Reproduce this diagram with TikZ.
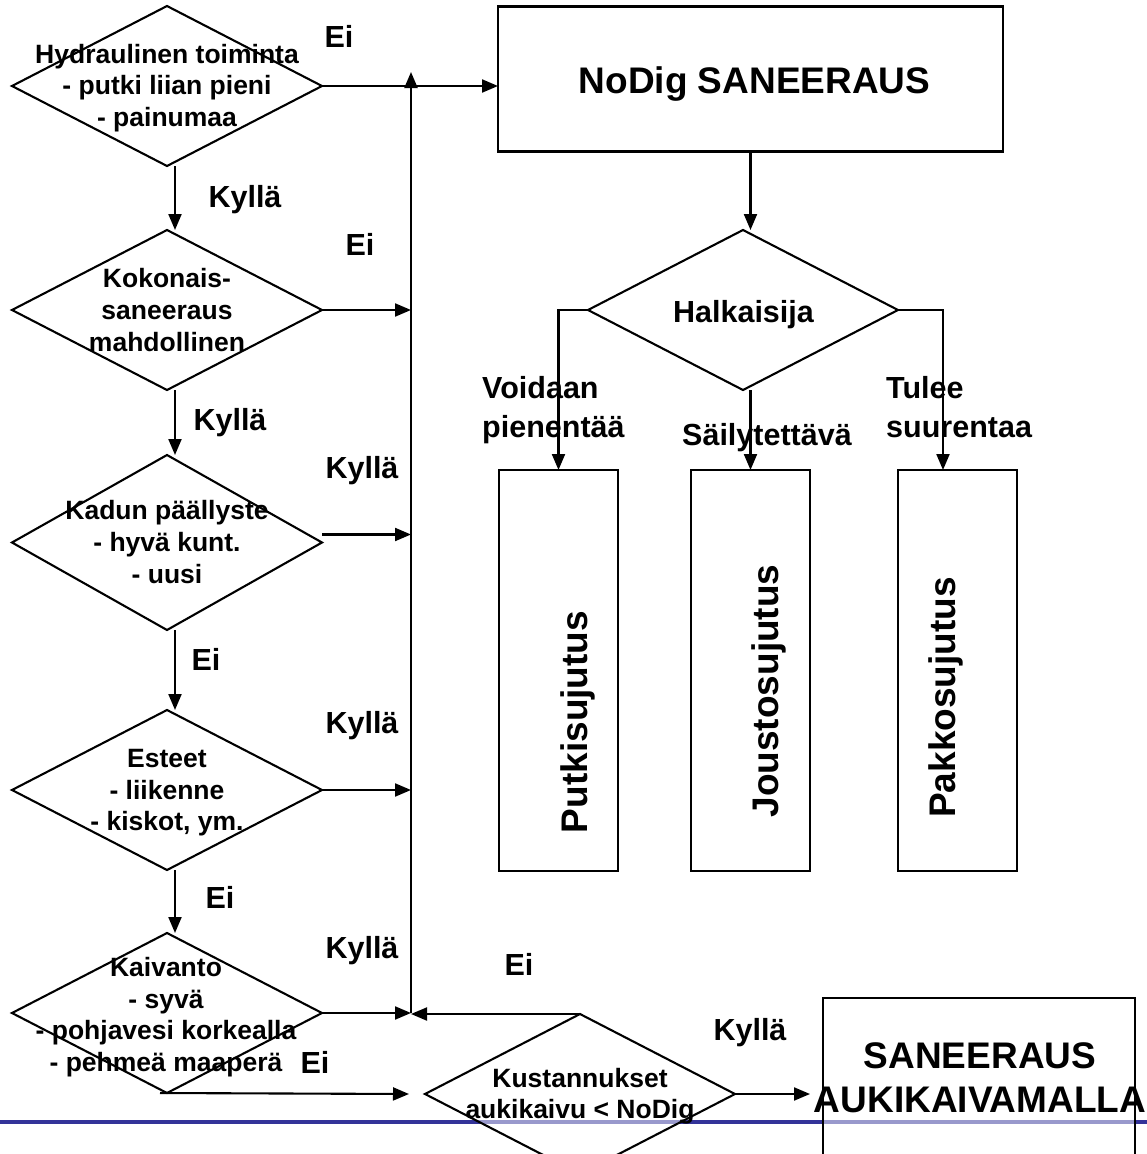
\documentclass[tikz,border=0pt]{standalone}
\usepackage{fontspec}
\setmainfont{Liberation Sans}
\usetikzlibrary{shapes.geometric,arrows.meta,calc}
\definecolor{lineblue}{RGB}{51,51,153}
\newcommand\fdia{\fontsize{26.5}{31.6}\selectfont\bfseries}
\newcommand\flab{\fontsize{30.5}{37}\selectfont\bfseries}
\newcommand\fbig{\fontsize{37}{44}\selectfont\bfseries}
\begin{document}
\begin{tikzpicture}[x=1pt,y=-1pt,
  dia/.style={draw, line width=2.1pt, diamond, minimum width=310pt, minimum height=160pt,
    inner sep=0pt, outer sep=0pt, fill=white, fill opacity=0.5},
  bx/.style={draw, line width=2.1pt, rectangle, inner sep=0pt, outer sep=0pt,
    fill=white, fill opacity=0.5},
  arr/.style={-{Triangle[length=16pt,width=13pt]}, line width=2.1pt},
  lab/.style={font=\flab, inner sep=0pt, anchor=base},
  labw/.style={font=\flab, inner sep=0pt, anchor=base west},
  dtx/.style={font=\fdia, align=center, inner sep=0pt},
  rot/.style={font=\fbig, rotate=90, inner sep=0pt}]
\useasboundingbox (0,0) rectangle (1147,1154);
\clip (0,0) rectangle (1147,1154);

% footer rule
\draw[lineblue, line width=4pt] (0,1122) -- (1147,1122);

% decision diamonds
\node[dia] (d1) at (167,86) {};
\node[dia] (d2) at (167,310) {};
\node[dia, minimum height=175pt] (d3) at (167,542.5) {};
\node[dia] (d4) at (167,790) {};
\node[dia] (d5) at (167,1013) {};
\node[dia] (k) at (580,1094) {};
\node[dia] (h) at (743,310) {};

% boxes
\node[bx, minimum width=505pt, minimum height=145pt] (nd) at (750.5,79) {};
\node[bx, minimum width=119pt, minimum height=401pt] (b1) at (558.5,670.5) {};
\node[bx, minimum width=119pt, minimum height=401pt] (b2) at (750.5,670.5) {};
\node[bx, minimum width=119pt, minimum height=401pt] (b3) at (957.5,670.5) {};
\node[bx, minimum width=312pt, minimum height=240pt] (sa) at (979,1118) {};

% collector line
\coordinate (bt) at (411,72);
\coordinate (bb) at (411,1013);
\draw[arr] (bb) -- (bt);

% connectors
\draw[arr] (d1.east) -- (d1.east -| nd.west);
\draw[arr] (d2.east) -- (d2.east -| bt);
\draw[arr] ([yshift=8pt]d3.east) -- ([yshift=8pt]d3.east -| bt);
\draw[arr] (d4.east) -- (d4.east -| bt);
\draw[arr] (d5.east) -- (bb);
\draw[arr] (k.north) -- (k.north -| bb);
\draw[arr] ([xshift=8pt]d1.south) -- ([xshift=8pt]d2.north);
\draw[arr] ([xshift=8pt]d2.south) -- ([xshift=8pt]d3.north);
\draw[arr] ([xshift=8pt]d3.south) -- ([xshift=8pt]d4.north);
\draw[arr] ([xshift=8pt]d4.south) -- ([xshift=8pt]d5.north);
\draw[arr] ([xshift=-7pt]d5.south) -- ([xshift=-16pt]k.west);
\draw[arr] (k.east) -- ([xshift=-13pt]sa.west |- k.east);
\draw[arr] (nd.south) -- (nd.south |- h.north);
\draw[arr] (h.west) -| (b1.north);
\draw[arr] (h.south -| b2.north) -- (b2.north);
\draw[arr] (h.east) -| ([xshift=-14.5pt]b3.north);

% diamond texts
\node[dtx] (t1) at (167,88) {Hydraulinen toiminta\\- putki liian pieni\\- painumaa};
\node[dtx] (t2) at (167,310) {Kokonais-\\saneeraus\\mahdollinen};
\node[dtx] (t3) at (167,542) {Kadun päällyste\\- hyvä kunt.\\- uusi};
\node[dtx] (t4) at (167,793) {Esteet\\- liikenne\\- kiskot, ym.};
\node[dtx] (t5) at (166,1017) {Kaivanto\\- syvä\\- pohjavesi korkealla\\- pehmeä maaperä};
\node[dtx] (tk) at (580,1096) {Kustannukset\\aukikaivu < NoDig};
\node[lab] (th) at (743.5,322) {Halkaisija};

% box texts
\node[font=\fbig, inner sep=0pt, anchor=base] (tnd) at (754.5,93.5) {NoDig SANEERAUS};
\node[font=\fbig, align=center, inner sep=0pt] (tsa) at (980,1078) {SANEERAUS\\AUKIKAIVAMALLA};
\node[rot] (r1) at (578,722) {Putkisujutus};
\node[rot] (r2) at (769,691) {Joustosujutus};
\node[rot] (r3) at (946,697.5) {Pakkosujutus};

% branch labels
\node[lab] (l1) at (339,47) {Ei};
\node[lab] (l2) at (245,207) {Kyllä};
\node[lab] (l3) at (360,255) {Ei};
\node[lab] (l4) at (230,430) {Kyllä};
\node[lab] (l5) at (362,478) {Kyllä};
\node[lab] (l6) at (206,670) {Ei};
\node[lab] (l7) at (362,733) {Kyllä};
\node[lab] (l8) at (220,908) {Ei};
\node[lab] (l9) at (362,958) {Kyllä};
\node[lab] (l10) at (519,975) {Ei};
\node[lab] (l11) at (315,1073) {Ei};
\node[lab] (l12) at (750,1040) {Kyllä};
\node[labw] (l13) at (482,398) {Voidaan};
\node[labw] (l14) at (482,437) {pienentää};
\node[labw] (l15) at (682,445) {Säilytettävä};
\node[labw] (l16) at (886,398) {Tulee};
\node[labw] (l17) at (886,437) {suurentaa};
\end{tikzpicture}
\end{document}
